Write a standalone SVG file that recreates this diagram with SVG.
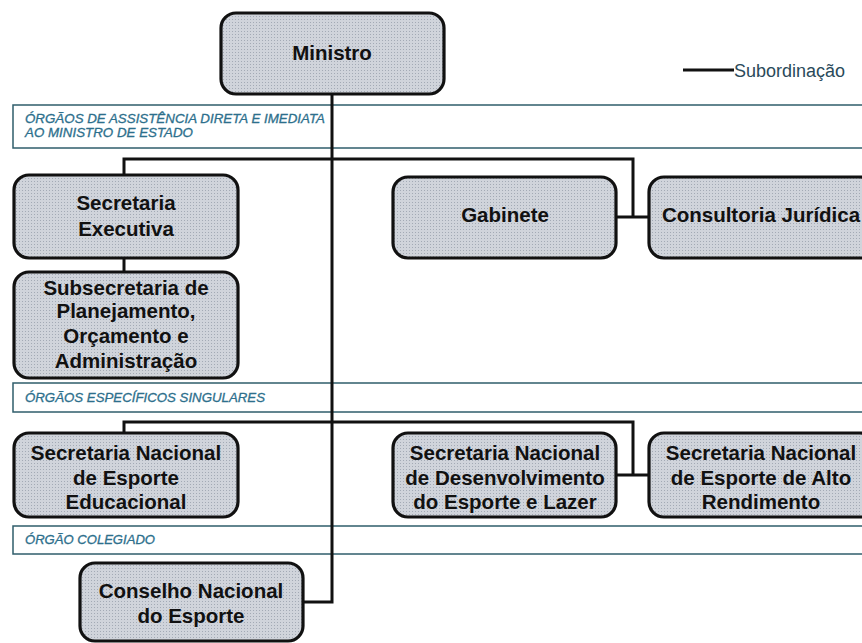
<svg xmlns="http://www.w3.org/2000/svg" width="862" height="643" viewBox="0 0 862 643">
<defs>
<pattern id="dots" width="3" height="3" patternUnits="userSpaceOnUse">
<rect width="3" height="3" fill="#d0d4db"/>
<rect x="1" y="1" width="1" height="1" fill="#a3aab5"/>
</pattern>
</defs>
<style>
.node rect{fill:url(#dots);stroke:#111;stroke-width:3.2}
.node text{font-family:"Liberation Sans",Arial,sans-serif;font-weight:bold;font-size:20.5px;fill:#111;text-anchor:middle}
.band{fill:#fff;stroke:#2f5d6b;stroke-width:1.5}
.bandtext{font-family:"Liberation Sans",Arial,sans-serif;font-style:italic;font-size:13px;fill:#2d6f8c;stroke:#2d6f8c;stroke-width:0.3}
.conn{fill:none;stroke:#111;stroke-width:3}
</style>
<rect width="862" height="643" fill="#fff"/>
<g id="bands">
<rect class="band" x="13" y="105" width="870" height="43"/>
<text class="bandtext" x="25" y="123" textLength="300" lengthAdjust="spacingAndGlyphs">ÓRGÃOS DE ASSISTÊNCIA DIRETA E IMEDIATA</text>
<text class="bandtext" x="25" y="137" textLength="168" lengthAdjust="spacingAndGlyphs">AO MINISTRO DE ESTADO</text>
<rect class="band" x="13" y="383" width="870" height="29"/>
<text class="bandtext" x="25" y="402" textLength="240" lengthAdjust="spacingAndGlyphs">ÓRGÃOS ESPECÍFICOS SINGULARES</text>
<rect class="band" x="13" y="526" width="870" height="28"/>
<text class="bandtext" x="25" y="544" textLength="130" lengthAdjust="spacingAndGlyphs">ÓRGÃO COLEGIADO</text>
</g>
<g id="legend">
<line x1="683" y1="70" x2="734" y2="70" stroke="#111" stroke-width="3"/>
<text x="734" y="77" font-family="Liberation Sans, Arial, sans-serif" font-size="18" fill="#2a4a5a">Subordinação</text>
</g>
<g id="connectors">
<path class="conn" d="M332 94 V602 H303"/>
<path class="conn" d="M124 175 V159 H633 V217"/>
<path class="conn" d="M616 217 H649"/>
<path class="conn" d="M124 258 V272"/>
<path class="conn" d="M124 433 V422 H633 V475"/>
<path class="conn" d="M616 475 H649"/>
</g>
<g id="ministro" class="node">
<rect x="221" y="13" width="223" height="81" rx="15"/>
<text x="332" y="60">Ministro</text>
</g>
<g id="secretaria-executiva" class="node">
<rect x="14" y="175" width="224" height="83" rx="15"/>
<text x="126" y="210">Secretaria</text>
<text x="126" y="236">Executiva</text>
</g>
<g id="gabinete" class="node">
<rect x="393" y="177" width="223" height="81" rx="15"/>
<text x="505" y="222">Gabinete</text>
</g>
<g id="consultoria-juridica" class="node">
<rect x="649" y="177" width="226" height="81" rx="15"/>
<text x="761" y="222">Consultoria Jurídica</text>
</g>
<g id="subsecretaria" class="node">
<rect x="14" y="272" width="224" height="106" rx="15"/>
<text x="126" y="295">Subsecretaria de</text>
<text x="126" y="318">Planejamento,</text>
<text x="126" y="343">Orçamento e</text>
<text x="126" y="368">Administração</text>
</g>
<g id="sn-esporte-educacional" class="node">
<rect x="14" y="433" width="224" height="84" rx="15"/>
<text x="126" y="460">Secretaria Nacional</text>
<text x="126" y="485">de Esporte</text>
<text x="126" y="509">Educacional</text>
</g>
<g id="sn-desenvolvimento" class="node">
<rect x="393" y="433" width="223" height="84" rx="15"/>
<text x="505" y="460">Secretaria Nacional</text>
<text x="505" y="485">de Desenvolvimento</text>
<text x="505" y="509">do Esporte e Lazer</text>
</g>
<g id="sn-alto-rendimento" class="node">
<rect x="649" y="433" width="226" height="84" rx="15"/>
<text x="761" y="460">Secretaria Nacional</text>
<text x="761" y="485">de Esporte de Alto</text>
<text x="761" y="509">Rendimento</text>
</g>
<g id="conselho-nacional" class="node">
<rect x="80" y="563" width="223" height="78" rx="15"/>
<text x="191" y="598">Conselho Nacional</text>
<text x="191" y="623">do Esporte</text>
</g>
</svg>
